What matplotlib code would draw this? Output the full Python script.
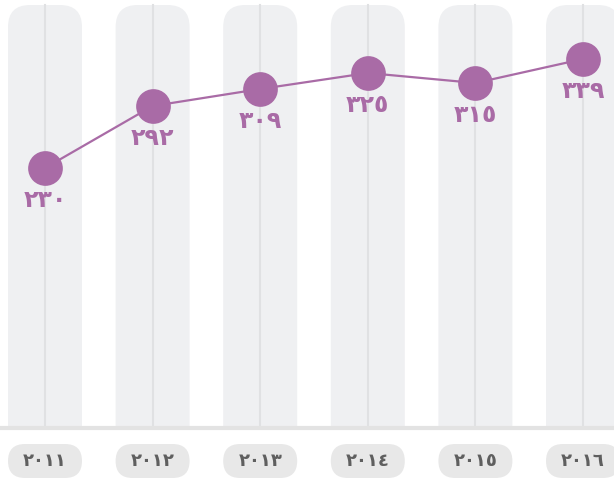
import matplotlib
matplotlib.use("Agg")
import matplotlib.pyplot as plt
from matplotlib.patches import FancyBboxPatch

# data
years = ["٢٠١١", "٢٠١٢", "٢٠١٣", "٢٠١٤", "٢٠١٥", "٢٠١٦"]
values = [230, 292, 309, 325, 315, 339]
value_labels = ["٢٣٠", "٢٩٢", "٣٠٩", "٣٢٥", "٣١٥", "٣٣٩"]

purple = "#a96ba6"
col_grey = "#eff0f2"
line_grey = "#e0e1e3"

W, H, dpi = 614, 479, 100
fig = plt.figure(figsize=(W / dpi, H / dpi), dpi=dpi)
fig.patch.set_facecolor("white")

base_px = 428            # baseline, pixels from top
step_px = 107.6          # distance between columns
first_px = 45            # centre of first column
ymin, ymax = -30, base_px - 30

ax = fig.add_axes([0, (H - base_px) / H, 1, base_px / H])
x0 = -first_px / step_px
ax.set_xlim(x0, x0 + W / step_px)
ax.set_ylim(ymin, ymax)
ax.axis("off")

xs = list(range(len(years)))
px_x = step_px
px_y = base_px / (ymax - ymin)
aspect = px_x / px_y

col_w = 74 / step_px
rad = 22 / step_px
top = ymax - 5 / px_y
for x in xs:
    ax.add_patch(FancyBboxPatch((x - col_w / 2, ymin - 80), col_w, top - ymin + 80,
                                boxstyle=f"round,pad=0,rounding_size={rad}",
                                mutation_aspect=aspect, fc=col_grey, ec="none", zorder=1))
    ax.plot([x, x], [ymin, top], color=line_grey, lw=1.5, zorder=2)

ax.axhline(ymin, color="#e3e3e3", lw=3, clip_on=False, zorder=3)

ax.plot(xs, values, color=purple, lw=1.6, zorder=4)
ax.plot(xs, values, "o", ms=25, color=purple, mec="none", zorder=5)
for x, v, lab in zip(xs, values, value_labels):
    ax.text(x, v - 32 / px_y, lab, ha="center", va="center", fontsize=17,
            fontweight="bold", color=purple, family="DejaVu Sans", zorder=6)

# year boxes under the axis
ax2 = fig.add_axes([0, 0, 1, (H - base_px) / H])
ax2.set_xlim(ax.get_xlim())
ax2.set_ylim(0, H - base_px)
ax2.axis("off")
box_w = 74 / step_px
box_h = 34
box_r = 17 / step_px
for x, yr in zip(xs, years):
    ax2.add_patch(FancyBboxPatch((x - box_w / 2, 1), box_w, box_h,
                                 boxstyle=f"round,pad=0,rounding_size={box_r}",
                                 mutation_aspect=step_px, fc="#e8e8e8", ec="none"))
    ax2.text(x, 1 + box_h / 2, yr, ha="center", va="center", fontsize=13,
             fontweight="bold", color="#5f5f5f", family="DejaVu Sans")

fig.savefig("out.png", dpi=dpi)
